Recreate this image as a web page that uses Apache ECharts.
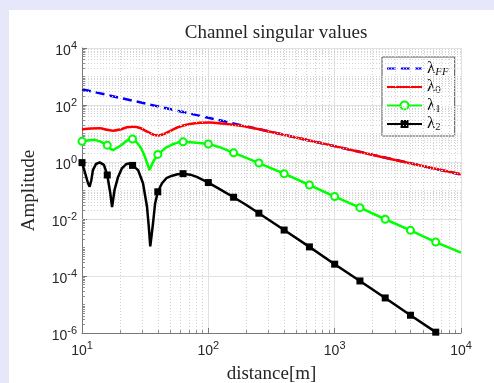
<!DOCTYPE html>
<html>
<head>
<meta charset="utf-8">
<script src="https://cdn.jsdelivr.net/npm/echarts@6/dist/echarts.min.js"></script>
<style>
  html, body { margin: 0; padding: 0; width: 494px; height: 383px; overflow: hidden; background: #e6e8fa; }
  #chart { position: absolute; left: 9px; top: 10px; width: 485px; height: 373px; background: #fff; }
</style>
</head>
<body>
<div id="chart"></div>
<script>
// distances at which MATLAB put the markers (every 0.2 decade)
const markerDist = [10, 15.85, 25.12, 39.81, 63.1, 100, 158.5, 251.2, 398.1, 631, 1000, 1585, 2512, 3981, 6310];

const farFieldDist = [10, 10000];
const farFieldVal = [356, 0.36];

const lambda0Dist = [10, 11.8, 13.9, 15.8, 17.6, 20, 22.7, 25.3, 28.8, 32.7, 36.5, 40, 44.6, 50.7, 59.6, 71.7, 86, 103, 128, 162, 206, 400, 1000, 2500, 10000];
const lambda0Val = [13.9, 15.0, 15.2, 13.5, 12.5, 13.8, 16.5, 17.3, 15.6, 11.7, 9.2, 8.5, 9.6, 12.7, 17.6, 21.5, 23.9, 24.3, 22.4, 19.9, 16.9, 8.9, 3.6, 1.42, 0.37];

const lambda1Dist = [10, 11.5, 12.7, 14, 15.85, 16.8, 17.6, 18.8, 20.3, 22.7, 25.12, 27, 29.3, 31, 32.1, 34.2, 36.5, 39.81, 46.2, 51.7, 57, 63.1, 81, 100, 126, 158.5, 200, 251.2, 398.1, 631, 1000, 1585, 2512, 3981, 6310, 10000];
const lambda1Val = [5.3, 5.8, 6.0, 5.2, 3.9, 2.9, 2.6, 3.1, 3.8, 5.7, 6.4, 5.0, 3.1, 1.8, 1.2, 0.52, 1.0, 1.85, 3.2, 4.1, 4.8, 5.1, 4.75, 4.3, 3.2, 2.1, 1.4, 0.92, 0.39, 0.156, 0.061, 0.025, 0.0098, 0.0040, 0.00155, 0.00066];

const lambda2Dist = [10, 10.6, 11.16, 11.5, 11.85, 12.2, 12.9, 13.8, 14.9, 15.85, 16.75, 17.3, 18.1, 19.3, 20.7, 22.4, 23.5, 25.12, 27.8, 30.4, 32.7, 33.8, 34.7, 36.5, 37.9, 39.81, 43, 46.5, 51.7, 57, 63.1, 72, 81, 100, 126, 158.5, 200, 251.2, 398.1, 631, 1000, 1585, 2512, 3981, 6310];
const lambda2Val = [0.95, 0.40, 0.18, 0.136, 0.23, 0.52, 0.85, 0.97, 0.79, 0.35, 0.08, 0.026, 0.105, 0.30, 0.60, 0.85, 0.88, 0.76, 0.52, 0.18, 0.027, 0.0052, 0.0011, 0.0071, 0.035, 0.09, 0.18, 0.27, 0.33, 0.37, 0.39, 0.36, 0.30, 0.19, 0.105, 0.058, 0.031, 0.016, 0.0041, 0.00105, 0.00026, 6.7e-5, 1.7e-5, 4.2e-6, 1.07e-6];

const serif = '"Liberation Serif", "DejaVu Serif", serif';
const sans = '"Liberation Sans", Arial, sans-serif';

function withMarkers(dist, val) {
  return dist.map((d, i) => {
    const isMarker = markerDist.some(m => Math.abs(m / d - 1) < 0.01);
    return isMarker ? { value: [d, val[i]] } : { value: [d, val[i]], symbol: 'none' };
  });
}

// minor grid positions 2..9 x 10^k, plus odd decades on y
const minorX = [];
for (let e = 1; e < 4; e++) for (let k = 2; k <= 9; k++) minorX.push(k * Math.pow(10, e));
const minorY = [];
for (let e = -6; e < 4; e++) {
  for (let k = 2; k <= 9; k++) minorY.push(k * Math.pow(10, e));
  if (e % 2 !== 0) minorY.push(Math.pow(10, e));
}

const gridLines = [];
minorX.forEach(v => gridLines.push({ xAxis: v }));
minorY.forEach(v => gridLines.push({ yAxis: v }));

// small inward minor ticks
const tickLines = [];
minorX.forEach(v => tickLines.push([{ coord: [v, 1e-6] }, { coord: [v, 1.25e-6] }]));
minorY.forEach(v => tickLines.push([{ coord: [10, v] }, { coord: [10.55, v] }]));

function powLabel(v) {
  const e = Math.round(Math.log10(v));
  return '{b|10}{s|' + e + '}';
}
const labelRich = {
  b: { fontFamily: sans, fontSize: 14, color: '#262626', lineHeight: 16, padding: [6, 0, 0, 0] },
  s: { fontFamily: sans, fontSize: 11, color: '#262626', lineHeight: 16, verticalAlign: 'top' }
};

const legendNames = { 'λFF': '{l|λ}{i|FF}', 'λ0': '{l|λ}{s|0}', 'λ1': '{l|λ}{s|1}', 'λ2': '{l|λ}{s|2}' };
const noSymbol = { color: 'rgba(0,0,0,0)', borderColor: 'rgba(0,0,0,0)', borderWidth: 0 };

const chart = echarts.init(document.getElementById('chart'));
chart.setOption({
  animation: false,
  backgroundColor: '#fff',
  title: {
    text: 'Channel singular values',
    left: 262, textAlign: 'center', top: 9,
    textStyle: { fontFamily: serif, fontSize: 19, fontWeight: 'normal', color: '#262626' }
  },
  grid: { left: 73, top: 38, right: 33, bottom: 50, outerBoundsMode: 'none' },
  legend: {
    orient: 'vertical',
    left: 373, top: 47,
    padding: [3, 6, 3, 4],
    itemWidth: 35, itemHeight: 10, itemGap: 1,
    backgroundColor: '#fff',
    borderColor: '#555', borderWidth: 1, borderRadius: 0,
    data: [
      { name: 'λFF', itemStyle: noSymbol },
      { name: 'λ0', itemStyle: noSymbol },
      'λ1', 'λ2'
    ],
    formatter: n => legendNames[n],
    textStyle: {
      rich: {
        l: { fontFamily: serif, fontSize: 17, color: '#111', lineHeight: 18 },
        s: { fontFamily: serif, fontSize: 11, color: '#111', lineHeight: 10, verticalAlign: 'bottom' },
        i: { fontFamily: serif, fontSize: 11, fontStyle: 'italic', color: '#111', lineHeight: 10, verticalAlign: 'bottom' }
      }
    }
  },
  xAxis: {
    type: 'log', logBase: 10, min: 10, max: 10000, interval: 1,
    name: 'distance[m]', nameLocation: 'middle', nameGap: 32,
    nameTextStyle: { fontFamily: serif, fontSize: 19, color: '#262626' },
    axisLine: { lineStyle: { color: '#777', width: 1 } },
    axisTick: { inside: true, length: 5, lineStyle: { color: '#777' } },
    axisLabel: { formatter: powLabel, rich: labelRich, margin: 7 },
    splitLine: { show: true, lineStyle: { color: '#e2e2e2', width: 1 } }
  },
  yAxis: {
    type: 'log', logBase: 10, min: 1e-6, max: 1e4, interval: 2,
    name: 'Amplitude', nameLocation: 'middle', nameGap: 43,
    nameTextStyle: { fontFamily: serif, fontSize: 19, color: '#262626' },
    axisLine: { show: true, lineStyle: { color: '#777', width: 1 } },
    axisTick: { show: true, inside: true, length: 5, lineStyle: { color: '#777' } },
    axisLabel: { formatter: powLabel, rich: labelRich, margin: 5 },
    splitLine: { show: true, lineStyle: { color: '#e2e2e2', width: 1 } }
  },
  series: [
    {
      name: 'grid', type: 'line', data: [[10, 1e-6]], symbol: 'none', silent: true, z: 1,
      lineStyle: { opacity: 0 },
      markLine: {
        silent: true, symbol: ['none', 'none'], label: { show: false }, animation: false,
        lineStyle: { color: '#d2d2d2', width: 1, type: [1, 2] },
        emphasis: { disabled: true },
        data: gridLines
      }
    },
    {
      name: 'ticks', type: 'line', data: [[10, 1e-6]], symbol: 'none', silent: true, z: 1,
      lineStyle: { opacity: 0 },
      markLine: {
        silent: true, symbol: ['none', 'none'], label: { show: false }, animation: false,
        lineStyle: { color: '#888', width: 1, type: 'solid' },
        emphasis: { disabled: true },
        data: tickLines
      }
    },
    {
      name: 'λFF', type: 'line', z: 3,
      data: farFieldDist.map((d, i) => [d, farFieldVal[i]]),
      symbol: 'none', itemStyle: { color: '#0000ff' },
      lineStyle: { color: '#0000ff', width: 2.5, type: [9, 5] }
    },
    {
      name: 'λ0', type: 'line', z: 4, smooth: 0.3,
      data: lambda0Dist.map((d, i) => [d, lambda0Val[i]]),
      symbol: 'none', itemStyle: { color: '#ff0000' },
      lineStyle: { color: '#ff0000', width: 2.5 }
    },
    {
      name: 'λ1', type: 'line', z: 5,
      data: withMarkers(lambda1Dist, lambda1Val),
      symbol: 'emptyCircle', symbolSize: 7, showAllSymbol: true,
      itemStyle: { color: '#00ff00', borderWidth: 2 },
      lineStyle: { color: '#00ff00', width: 2.5 }
    },
    {
      name: 'λ2', type: 'line', z: 6,
      data: withMarkers(lambda2Dist, lambda2Val),
      symbol: 'rect', symbolSize: 7, showAllSymbol: true,
      itemStyle: { color: '#000' },
      lineStyle: { color: '#000', width: 2.5 }
    }
  ]
});
</script>
</body>
</html>
